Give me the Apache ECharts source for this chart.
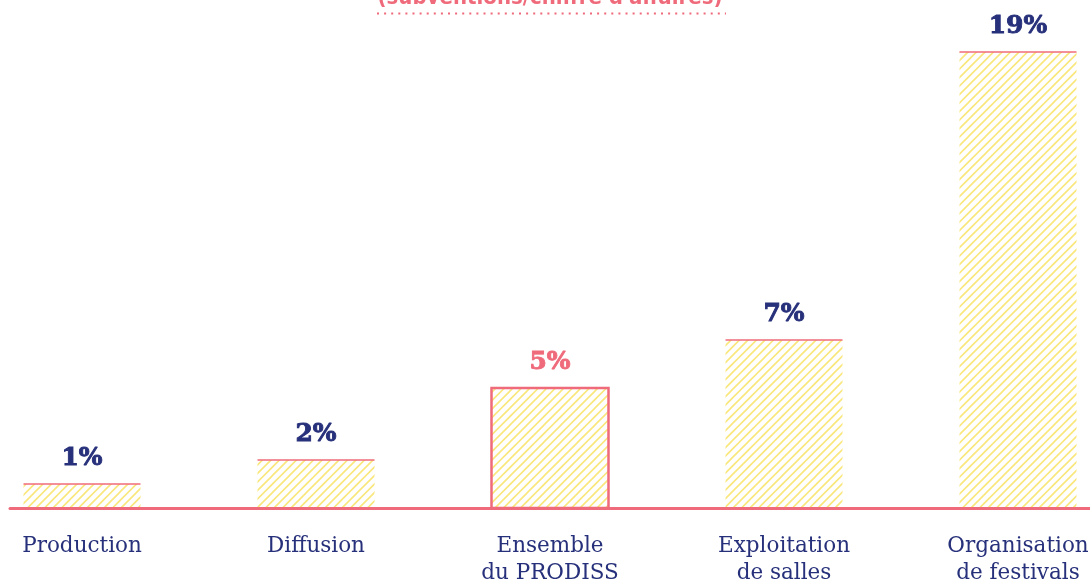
<!DOCTYPE html>
<html>
<head>
<meta charset="utf-8">
<script src="https://cdn.jsdelivr.net/npm/echarts@6/dist/echarts.min.js"></script>
<style>
html,body{margin:0;padding:0;background:#fff;}
#chart{width:1090px;height:582px;}
</style>
</head>
<body>
<div id="chart"></div>
<script>
var categories = ['Production', 'Diffusion', 'Ensemble\ndu PRODISS', 'Exploitation\nde salles', 'Organisation\nde festivals'];
var values = [1, 2, 5, 7, 19];
var highlighted = [false, false, true, false, false];
var valueLabels = ['1%', '2%', '5%', '7%', '19%'];
var titleText = "(subventions/chiffre d'affaires)";

var PINK = '#ef6b7b';
var NAVY = '#27307a';
var YELLOW = '#f9e77c';

function makeHatch() {
  var s = 17, g = 8.5;
  var c = document.createElement('canvas');
  c.width = s; c.height = s;
  var ctx = c.getContext('2d');
  ctx.fillStyle = '#ffffff';
  ctx.fillRect(0, 0, s, s);
  ctx.strokeStyle = YELLOW;
  ctx.lineWidth = 1.6;
  ctx.beginPath();
  for (var k = 0; k <= 4; k++) {
    var d = k * g; // line x + y = d
    ctx.moveTo(d + 2, -2); ctx.lineTo(d - s - 2, s + 2);
  }
  ctx.stroke();
  return c;
}
var hatch = makeHatch();

var chart = echarts.init(document.getElementById('chart'), null, {renderer: 'canvas'});

var data = values.map(function (v, i) { return [i, v, highlighted[i] ? 1 : 0, valueLabels[i]]; });

chart.setOption({
  animation: false,
  grid: [
    {left: -35, width: 1170, top: 28, bottom: 74, outerBoundsMode: 'none', containLabel: false},
    {left: 10, right: 0, top: 28, bottom: 74, outerBoundsMode: 'none', containLabel: false}
  ],
  xAxis: [
    {
      type: 'category', gridIndex: 0, data: categories,
      axisLine: {show: false}, axisTick: {show: false},
      axisLabel: {
        margin: 25, color: NAVY, fontFamily: 'DejaVu Serif', fontSize: 21.5,
        lineHeight: 27, interval: 0
      }
    },
    {
      type: 'value', gridIndex: 1, min: 0, max: 1, z: 10,
      axisLine: {show: true, lineStyle: {color: PINK, width: 3}},
      axisTick: {show: false}, axisLabel: {show: false}, splitLine: {show: false}
    }
  ],
  yAxis: [
    {type: 'value', gridIndex: 0, min: 0, max: 20, show: false},
    {type: 'value', gridIndex: 1, min: 0, max: 20, show: false}
  ],
  graphic: [
    {
      type: 'text', x: 550, y: 9,
      style: {
        text: titleText, fill: PINK, align: 'center', verticalAlign: 'bottom',
        font: 'bold 22px "DejaVu Sans Condensed"'
      }
    },
    {
      type: 'line',
      shape: {x1: 377, y1: 13.5, x2: 726, y2: 13.5},
      style: {stroke: PINK, lineWidth: 2, lineDash: [2, 5.1]}
    }
  ],
  series: [{
    type: 'custom',
    xAxisIndex: 0, yAxisIndex: 0,
    z: 2,
    data: data,
    renderItem: function (params, api) {
      var top = api.coord([api.value(0), api.value(1)]);
      var base = api.coord([api.value(0), 0]);
      var bw = api.size([1, 0])[0] * 0.5;
      var x = top[0] - bw / 2;
      var h = base[1] - top[1];
      var hi = api.value(2) === 1;
      var children = [{
        type: 'rect',
        shape: {x: x, y: top[1], width: bw, height: h},
        style: {fill: {image: hatch, repeat: 'repeat'}}
      }];
      if (hi) {
        children.push({
          type: 'rect',
          shape: {x: x, y: top[1], width: bw, height: h},
          style: {fill: 'none', stroke: PINK, lineWidth: 2.5}
        });
      } else {
        children.push({
          type: 'line',
          shape: {x1: x, y1: top[1], x2: x + bw, y2: top[1]},
          style: {stroke: PINK, lineWidth: 1.5}
        });
      }
      var col = hi ? PINK : NAVY;
      children.push({
        type: 'text',
        x: top[0], y: top[1] - 13,
        style: {
          text: api.value(3), fill: col, stroke: col, lineWidth: 0.9,
          align: 'center', verticalAlign: 'bottom',
          font: 'bold 25px "DejaVu Serif"'
        }
      });
      return {type: 'group', children: children};
    }
  }]
});
</script>
</body>
</html>
